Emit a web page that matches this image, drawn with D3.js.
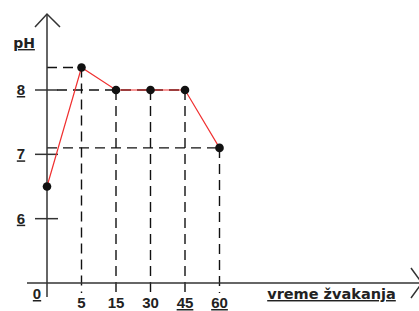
<!DOCTYPE html>
<html><head><meta charset="utf-8">
<script src="https://cdn.jsdelivr.net/npm/d3@7"></script>
<style>body{margin:0;background:#fff}svg{display:block}text{font-weight:bold;fill:#222}.num{font-family:"Liberation Sans",Arial,sans-serif}.lbl{font-family:"DejaVu Sans",Verdana,sans-serif}</style>
</head><body>
<script>
const categories = ["0","5","15","30","45","60"];
const phValues = [6.5, 8.35, 8.0, 8.0, 8.0, 7.1];
const yTicks = [6, 7, 8];
const underlinedX = ["0","45","60"];
const yLabel = "pH";
const xLabel = "vreme žvakanja";

const W = 419, H = 311;
const svg = d3.select("body").append("svg").attr("width", W).attr("height", H);
const x = d3.scalePoint().domain(categories).range([47, 219.5]);
const y = d3.scaleLinear().domain([5, 8]).range([283, 90]);
const axisColor = "#333";
const dash = "10,6";

// guide dashed lines
const g = svg.append("g").attr("stroke", "#111").attr("stroke-width", 1.4).attr("stroke-dasharray", dash).attr("fill", "none");
categories.forEach((c, i) => {
  if (i === 0) return;
  g.append("line").attr("x1", x(c)).attr("x2", x(c)).attr("y1", y(phValues[i])).attr("y2", 293);
});
g.append("line").attr("x1", x("0")).attr("x2", x("5")).attr("y1", y(phValues[1])).attr("y2", y(phValues[1]));
g.append("line").attr("x1", 57).attr("x2", x("45")).attr("y1", y(8)).attr("y2", y(8));
g.append("line").attr("x1", x("0")).attr("x2", x("60")).attr("y1", y(phValues[5])).attr("y2", y(phValues[5]));

// axes
const ax = svg.append("g").attr("stroke", axisColor).attr("stroke-width", 1.5).attr("fill", "none");
ax.append("line").attr("x1", x("0")).attr("x2", x("0")).attr("y1", 14).attr("y2", 297);
ax.append("polyline").attr("points", `${x("0")-12},27 ${x("0")},14 ${x("0")+13},27`);
ax.append("line").attr("x1", 27).attr("x2", 421).attr("y1", y(5)).attr("y2", y(5));
ax.append("polyline").attr("points", `411,268 422,${y(5)} 411,298`);
yTicks.forEach(t => {
  ax.append("line").attr("x1", 35).attr("x2", 58).attr("y1", y(t)).attr("y2", y(t));
});

// y tick labels
svg.append("g").selectAll("text").data(yTicks).join("text").attr("class", "num")
  .attr("x", 21).attr("y", d => y(d) + 5).attr("text-anchor", "middle")
  .attr("font-size", 15).attr("text-decoration", "underline").text(d => d);
svg.append("text").attr("class", "lbl").attr("x", 24).attr("y", 48).attr("text-anchor", "middle")
  .attr("font-size", 14).attr("text-decoration", "underline").text(yLabel);

// x tick labels
svg.append("g").selectAll("text").data(categories).join("text").attr("class", "num")
  .attr("x", d => d === "0" ? 37 : x(d)).attr("y", d => d === "0" ? 299 : 308)
  .attr("text-anchor", "middle").attr("font-size", 15)
  .attr("text-decoration", d => underlinedX.includes(d) ? "underline" : null)
  .text(d => d);
svg.append("text").attr("class", "lbl").attr("x", 331.5).attr("y", 299).attr("text-anchor", "middle")
  .attr("font-size", 14.5).attr("text-decoration", "underline").text(xLabel);

// data line
const line = d3.line().x((d, i) => x(categories[i])).y(d => y(d));
svg.append("path").datum(phValues).attr("d", line).attr("fill", "none")
  .attr("stroke", "#f03030").attr("stroke-width", 1.2);
svg.append("g").selectAll("circle").data(phValues).join("circle")
  .attr("cx", (d, i) => x(categories[i])).attr("cy", d => y(d)).attr("r", 4.3).attr("fill", "#111");
</script>
</body></html>
